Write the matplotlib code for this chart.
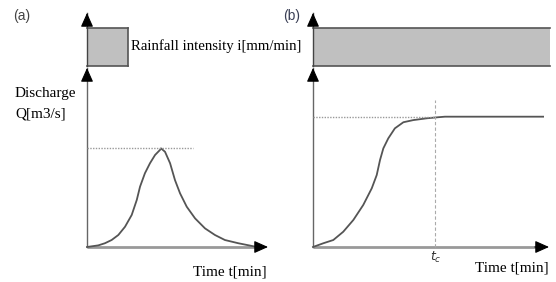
import matplotlib
matplotlib.use("Agg")
import matplotlib.pyplot as plt

W, H = 556, 282

# ---- data (arbitrary units) ----
rain_intensity = 0.72          # relative rainfall intensity
rain_a_start, rain_a_end = 0.0, 22.7   # short rainfall (a)
rain_b_start, rain_b_end = 0.0, 100.4  # continuous rainfall (b)

t_a = [0, 6.2, 9.9, 13.6, 17.3, 21.0, 24.7, 27.5, 29.3, 32.0, 34.8, 37.6, 40.3, 40.9,
       43.1, 45.9, 48.6, 51.4, 55.1, 59.7, 65.2, 70.7, 76.2, 83.6, 91.0, 93.8]
q_a = [0, 0.9, 2.1, 3.9, 6.7, 11.3, 17.9, 26.3, 33.7, 41.2, 46.8, 51.4, 54.2, 55.1,
       53.2, 46.8, 37.4, 30.0, 22.5, 16.0, 10.4, 6.7, 3.9, 2.1, 0.6, 0]
peak_a_q = 55.1
peak_ref_a_end = 58.6

t_b = [0, 4.4, 8.6, 12.8, 17.1, 21.3, 24.9, 27.0, 28.4, 29.8, 31.9, 34.7, 38.3, 42.5,
       48.2, 53.1, 55.9, 97.5]
q_b = [0, 2.1, 3.9, 8.5, 15.1, 23.5, 32.8, 40.2, 48.6, 55.1, 60.7, 66.3, 69.7, 70.9,
       71.9, 72.5, 72.8, 72.8]
plateau_b = 72.4
t_c = 51.9
t_c_line_top = 82.0

fig = plt.figure(figsize=(W / 100, H / 100), dpi=100)


def px_axes(left, top, right, bottom):
    ax = fig.add_axes([left / W, 1 - bottom / H, (right - left) / W, (bottom - top) / H])
    ax.set_axis_off()
    return ax


def fig_text(x, y, s, **kw):
    fig.text(x / W, 1 - y / H, s, **kw)


def arrow_head(ax, xy_from, xy_to):
    ax.annotate("", xy=xy_to, xytext=xy_from, xycoords="axes fraction",
                textcoords="axes fraction",
                arrowprops=dict(arrowstyle="-|>,head_length=0.85,head_width=0.38",
                                mutation_scale=10, color="black", lw=0.8,
                                shrinkA=0, shrinkB=0))


curve_color = "#555555"
axis_color = "#666666"


def hydro_axes(left, right, t, q):
    ax = px_axes(left, 68, right, 247)
    ax.set_xlim(0, 100)
    ax.set_ylim(0, 100)
    ax.plot([0, 0], [0, 1], transform=ax.transAxes, color=axis_color, lw=1.0, clip_on=False)
    ax.plot([0, 0.97], [0, 0], transform=ax.transAxes, color="#999999", lw=2.0, clip_on=False,
            solid_capstyle="butt")
    arrow_head(ax, (0, 0.93), (0, 1.0))
    arrow_head(ax, (0.94, 0), (1.0, 0))
    ax.plot(t, q, color=curve_color, lw=1.3, clip_on=False, solid_joinstyle="round")
    return ax


def rain_axes(left, right, start, end, close_right=True):
    ax = px_axes(left, 13, right, 66)
    ax.set_xlim(0, 100)
    ax.set_ylim(0, 1)
    ax.fill_between([start, end], 0, rain_intensity, color="#c0c0c0", lw=0, clip_on=False)
    ax.plot([start, end], [0, 0], color="#555555", lw=1.2, clip_on=False)
    ax.plot([start, end], [rain_intensity, rain_intensity], color="#555555", lw=1.2, clip_on=False)
    if close_right:
        ax.plot([end, end], [0, rain_intensity], color="#555555", lw=1.2, clip_on=False)
    ax.plot([0, 0], [0, 1], transform=ax.transAxes, color="#444444", lw=1.0, clip_on=False)
    arrow_head(ax, (0, 0.8), (0, 1.0))
    return ax


# ---- panel (a) ----
ra = rain_axes(87, 268, rain_a_start, rain_a_end)
qa = hydro_axes(87, 268, t_a, q_a)
qa.plot([0, peak_ref_a_end], [peak_a_q, peak_a_q], color="#999999", lw=1.0,
        linestyle=(0, (1, 1)), clip_on=False)

# ---- panel (b) ----
rb = rain_axes(313, 549, rain_b_start, rain_b_end, close_right=False)
qb = hydro_axes(313, 549, t_b, q_b)
qb.plot([0, t_c], [plateau_b, plateau_b], color="#999999", lw=1.0,
        linestyle=(0, (1, 1)), clip_on=False)
qb.plot([t_c, t_c], [0, t_c_line_top], color="#aaaaaa", lw=0.8,
        linestyle=(0, (3, 2)), clip_on=False)
qb.text(t_c, -6, r"$t_c$", ha="center", va="center", fontsize=9, color="#333333")

# ---- text ----
serif = "Liberation Serif"
fig_text(13, 16, "(a)", fontsize=10, family="Liberation Sans", color="#444444", va="center")
fig_text(283, 16, "(b)", fontsize=10, family="Liberation Sans", color="#3a3f55", va="center")
fig_text(131, 46, "Rainfall intensity i[mm/min]", fontsize=10.6, family=serif, va="center")
fig_text(15, 93, "Discharge", fontsize=11, family=serif, va="center")
fig_text(15, 114, "Q[m3/s]", fontsize=11, family=serif, va="center")
fig_text(267, 272, "Time t[min]", fontsize=11, family=serif, va="center", ha="right")
fig_text(549, 268, "Time t[min]", fontsize=11, family=serif, va="center", ha="right")

fig.savefig("out.png", dpi=100)
